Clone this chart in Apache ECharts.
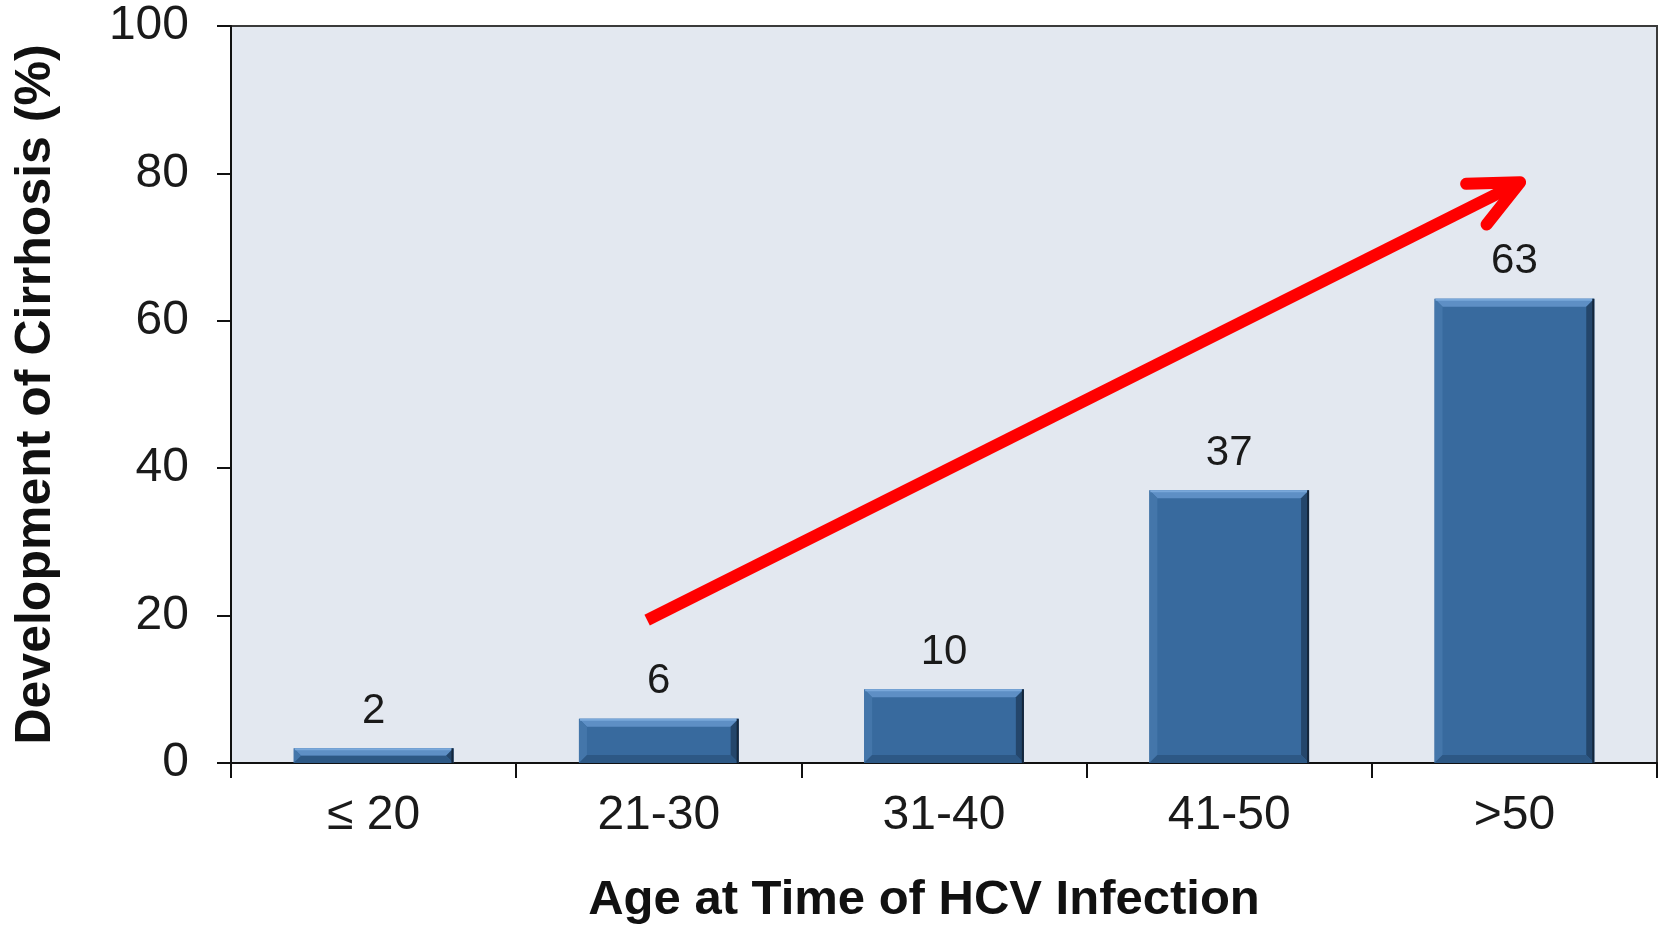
<!DOCTYPE html>
<html>
<head>
<meta charset="utf-8">
<title>Cirrhosis by age at HCV infection</title>
<script src="https://cdn.jsdelivr.net/npm/echarts@6/dist/echarts.min.js"></script>
<style>
  html, body { margin: 0; padding: 0; background: #ffffff; }
  #chart { width: 1660px; height: 925px; }
</style>
</head>
<body>
<div id="chart"></div>
<script>
  // data
  var ageGroups = ["\u2264 20", "21-30", "31-40", "41-50", ">50"];
  var cirrhosisPct = [2, 6, 10, 37, 63];
  var yTicks = [0, 20, 40, 60, 80, 100];
  // trend arrow, in (category index, value) terms
  var arrowFrom = [0.959, 19.4];
  var arrowTo = [4.02, 78.8];

  var font = "'Liberation Sans', Arial, sans-serif";
  var myChart = echarts.init(document.getElementById("chart"));

  // bevelled bar, drawn from the axes' own scales
  function renderBar(params, api) {
    var base = api.coord([api.value(0), 0]);
    var top = api.coord([api.value(0), api.value(1)]);
    var w = api.size([1, 0])[0] * 0.56;
    var x0 = base[0] - w / 2, x1 = base[0] + w / 2;
    var y0 = top[1], y1 = base[1];
    var b = Math.min(8, (y1 - y0) / 2);
    return {
      type: "group",
      children: [
        { type: "rect", shape: { x: x0, y: y0, width: w, height: y1 - y0 }, style: { fill: "#386a9e" } },
        { type: "polygon", shape: { points: [[x0, y0], [x1, y0], [x1 - b, y0 + b], [x0 + b, y0 + b]] }, style: { fill: "#5e8fc5" } },
        { type: "polygon", shape: { points: [[x0, y0], [x0 + b, y0 + b], [x0 + b, y1 - b], [x0, y1]] }, style: { fill: "#4476aa" } },
        { type: "polygon", shape: { points: [[x1, y0], [x1, y1], [x1 - b, y1 - b], [x1 - b, y0 + b]] }, style: { fill: "#24466b" } },
        { type: "polygon", shape: { points: [[x0, y1], [x1, y1], [x1 - b, y1 - b], [x0 + b, y1 - b]] }, style: { fill: "#2d5885" } },
        { type: "line", shape: { x1: x0 + 1, y1: y0 + 1, x2: x1 - 1, y2: y0 + 1 }, style: { stroke: "#7aa8da", lineWidth: 2 } },
        { type: "line", shape: { x1: x1 - 1, y1: y0, x2: x1 - 1, y2: y1 }, style: { stroke: "#14263b", lineWidth: 2 } },
        {
          type: "text",
          style: {
            text: String(api.value(1)),
            x: base[0],
            y: y0 - 37,
            align: "center",
            verticalAlign: "middle",
            font: "42px " + font,
            fill: "#1a1a1a"
          }
        }
      ]
    };
  }

  var option = {
    backgroundColor: "#ffffff",
    animation: false,
    grid: {
      left: 231,
      right: 3,
      top: 26,
      bottom: 162,
      outerBoundsMode: "none",
      show: true,
      backgroundColor: "#e3e8f0",
      borderColor: "#3a3a3a",
      borderWidth: 2
    },
    xAxis: {
      type: "category",
      data: ageGroups,
      name: "Age at Time of HCV Infection",
      nameLocation: "middle",
      nameGap: 113,
      nameTextStyle: { fontFamily: font, fontWeight: "bold", fontSize: 49, color: "#111", padding: [0, 40, 0, 0] },
      axisLine: { lineStyle: { color: "#111", width: 2 } },
      axisTick: { show: true, alignWithLabel: false, length: 15, lineStyle: { color: "#111", width: 2 } },
      axisLabel: { fontFamily: font, fontSize: 48, color: "#1a1a1a", margin: 29 },
      splitLine: { show: false }
    },
    yAxis: {
      type: "value",
      min: yTicks[0],
      max: yTicks[yTicks.length - 1],
      interval: yTicks[1] - yTicks[0],
      name: "Development of Cirrhosis (%)",
      nameLocation: "middle",
      nameRotate: 90,
      nameGap: 170,
      nameTextStyle: { fontFamily: font, fontWeight: "bold", fontSize: 50, color: "#111" },
      axisLine: { show: true, lineStyle: { color: "#111", width: 2 } },
      axisTick: { show: true, length: 14, lineStyle: { color: "#111", width: 2 } },
      axisLabel: { fontFamily: font, fontSize: 48, color: "#1a1a1a", margin: 42 },
      splitLine: { show: false }
    },
    series: [
      {
        type: "custom",
        renderItem: renderBar,
        encode: { x: 0, y: 1 },
        data: cirrhosisPct.map(function (v, i) { return [i, v]; })
      }
    ]
  };
  myChart.setOption(option);

  // trend arrow placed through the chart's own coordinate conversion
  function toPx(pt) {
    var a = myChart.convertToPixel({ gridIndex: 0 }, [0, pt[1]]);
    var b = myChart.convertToPixel({ gridIndex: 0 }, [1, pt[1]]);
    return [a[0] + pt[0] * (b[0] - a[0]), a[1]];
  }
  var p0 = toPx(arrowFrom), p1 = toPx(arrowTo);
  var ang = Math.atan2(p0[1] - p1[1], p0[0] - p1[0]);
  var headLen = 54, spread = 25 * Math.PI / 180;
  var h1 = [p1[0] + headLen * Math.cos(ang - spread), p1[1] + headLen * Math.sin(ang - spread)];
  var h2 = [p1[0] + headLen * Math.cos(ang + spread), p1[1] + headLen * Math.sin(ang + spread)];

  myChart.setOption({
    graphic: [
      {
        type: "line",
        z: 100,
        shape: { x1: p0[0], y1: p0[1], x2: p1[0] - 4 * Math.cos(ang + Math.PI), y2: p1[1] - 4 * Math.sin(ang + Math.PI) },
        style: { stroke: "#ff0000", lineWidth: 12, lineCap: "butt" }
      },
      {
        type: "polyline",
        z: 100,
        shape: { points: [h1, p1, h2] },
        style: { stroke: "#ff0000", fill: null, lineWidth: 12, lineCap: "round", lineJoin: "round" }
      }
    ]
  });
</script>
</body>
</html>
